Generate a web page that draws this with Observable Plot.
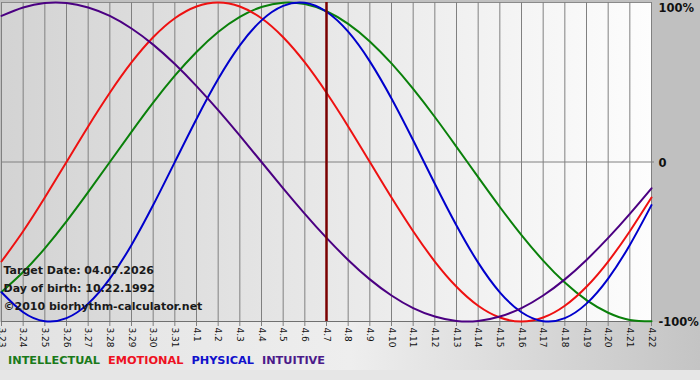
<!DOCTYPE html>
<html><head><meta charset="utf-8">
<script src="https://cdn.jsdelivr.net/npm/d3@7"></script>
<script src="https://cdn.jsdelivr.net/npm/@observablehq/plot@0.6"></script>
<style>
html,body{margin:0;padding:0;background:#c0c0c0;}
#wrap{position:relative;width:700px;height:380px;overflow:hidden;
background:linear-gradient(#c0c0c0,#c0c0c0) 0 0/100% 322px no-repeat,
linear-gradient(to right,#e2e2e2,#eeeeee 50%,#c4c4c4) 0 322px/100% 48px no-repeat,#e6e6e6;}
#legend{position:absolute;left:8px;top:354px;font:bold 11.3px "DejaVu Sans",sans-serif;white-space:nowrap;}
#legend span{margin-right:8px;}
svg{display:block;position:absolute;left:0;top:0;}
</style></head><body><div id="wrap"><div id="legend"></div></div>
<script>
const days = ["3.23","3.24","3.25","3.26","3.27","3.28","3.29","3.30","3.31",
  "4.1","4.2","4.3","4.4","4.5","4.6","4.7","4.8","4.9","4.10","4.11","4.12","4.13",
  "4.14","4.15","4.16","4.17","4.18","4.19","4.20","4.21","4.22"];
const intellectual = [-0.815,-0.690,-0.541,-0.372,-0.189,0,0.189,0.372,0.541,0.690,0.815,0.910,0.972,0.999,0.990,0.945,0.866,0.756,0.618,0.458,0.282,0.095,-0.095,-0.282,-0.458,-0.618,-0.756,-0.866,-0.945,-0.990,-0.999];
const emotional = [-0.624,-0.434,-0.223,0,0.223,0.434,0.624,0.782,0.901,0.975,1,0.975,0.901,0.782,0.624,0.434,0.223,0,-0.223,-0.434,-0.624,-0.782,-0.901,-0.975,-1,-0.975,-0.901,-0.782,-0.624,-0.434,-0.223];
const physical = [-0.817,-0.942,-0.998,-0.979,-0.888,-0.731,-0.520,-0.270,0,0.270,0.520,0.731,0.888,0.979,0.998,0.942,0.817,0.631,0.398,0.136,-0.136,-0.398,-0.631,-0.817,-0.942,-0.998,-0.979,-0.888,-0.731,-0.520,-0.270];
const intuitive = [0.916,0.969,0.997,0.997,0.969,0.916,0.837,0.736,0.614,0.476,0.325,0.165,0,-0.165,-0.325,-0.476,-0.614,-0.736,-0.837,-0.916,-0.969,-0.997,-0.997,-0.969,-0.916,-0.837,-0.736,-0.614,-0.476,-0.325,-0.165];
const seriesNames = ["INTELLECTUAL","EMOTIONAL","PHYSICAL","INTUITIVE"];
const seriesValues = [intellectual, emotional, physical, intuitive];
const seriesColors = ["#0a800a","#ee1111","#0000cc","#4b0082"];
const legendColors = ["#1a7a1a","#ee1122","#1111cc","#4b1a8a"];
const yTickValues = [1, 0, -1];
const yTickLabels = ["100%", "0", "-100%"];
const targetDay = "4.7";
const infoLines = ["Target Date: 04.07.2026", "Day of birth: 10.22.1992", "©2010 biorhythm-calculator.net"];

const rows = seriesNames.flatMap((name, s) => days.map((d, i) => ({day: d, value: seriesValues[s][i], series: name})));
const labelFor = v => yTickLabels[yTickValues.indexOf(v)];

const svg = Plot.plot({
  width: 700, height: 380,
  marginLeft: 1, marginRight: 49, marginTop: 2, marginBottom: 59,
  style: {background: "transparent", fontFamily: "DejaVu Sans, sans-serif", fontSize: "9px", color: "#111", overflow: "visible"},
  x: {type: "point", domain: days, padding: 0, round: false, axis: null},
  y: {domain: [-1, 1], axis: null},
  color: {domain: seriesNames, range: seriesColors},
  marks: [
    Plot.frame({fill: "url(#plotbg)", stroke: "#8a8a8a"}),
    Plot.ruleX(days, {stroke: "#808080", strokeWidth: 1, insetBottom: -5}),
    Plot.ruleY([0], {stroke: "#808080", insetRight: -3}),
    Plot.ruleY([-1], {stroke: "#707070"}),
    Plot.line(rows, {x: "day", y: "value", stroke: "series", strokeWidth: 2, curve: "natural"}),
    Plot.ruleX([targetDay], {stroke: "#7a0000", strokeWidth: 2.5}),
    Plot.text(days, {x: d => d, frameAnchor: "bottom", dy: 6, rotate: 90, textAnchor: "start", lineAnchor: "middle",
      fontSize: 9, fill: "#111"}),
    Plot.text([infoLines.join("\n")], {frameAnchor: "bottom-left", dx: 2, dy: -12, lineHeight: 1.6,
      fontWeight: "bold", fontSize: 11, fill: "#1a1a1a", textAnchor: "start"}),
    Plot.text(yTickValues.filter(v => v === 1), {frameAnchor: "right", y: d => d, text: labelFor, dx: 7, dy: 6,
      textAnchor: "start", fontWeight: "bold", fontSize: 11.5, fill: "#111"}),
    Plot.text(yTickValues.filter(v => v !== 1), {frameAnchor: "right", y: d => d, text: labelFor, dx: 7, dy: 1,
      textAnchor: "start", fontWeight: "bold", fontSize: 11.5, fill: "#111"})
  ]
});

const defs = d3.select(svg).insert("defs", ":first-child");
const grad = defs.append("linearGradient").attr("id", "plotbg").attr("x1", 0).attr("x2", 1).attr("y1", 0).attr("y2", 0);
grad.append("stop").attr("offset", 0).attr("stop-color", "#d3d3d3");
grad.append("stop").attr("offset", 1).attr("stop-color", "#fdfdfd");

document.getElementById("wrap").appendChild(svg);
const legend = d3.select("#legend");
seriesNames.forEach((n, i) => legend.append("span").style("color", legendColors[i]).text(n));
</script></body></html>
